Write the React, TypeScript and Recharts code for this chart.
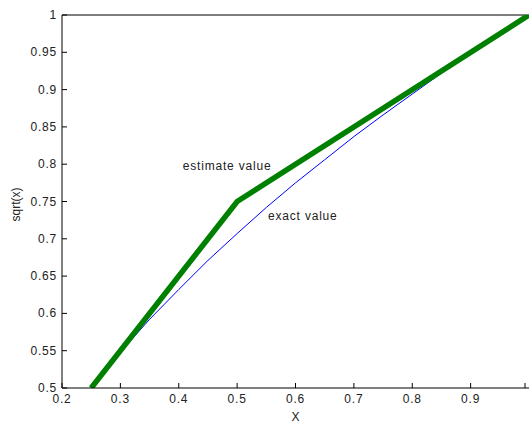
import { LineChart, Line, XAxis, YAxis, ReferenceDot, ReferenceLine } from "recharts"

const estimateX = [0.25, 0.5, 1]
const estimateY = [0.5, 0.75, 1]

const exactX = [0.25, 0.3, 0.35, 0.4, 0.45, 0.5, 0.55, 0.6, 0.65, 0.7, 0.75, 0.8, 0.85, 0.9, 0.95, 1]
const exactY = [0.5, 0.548, 0.592, 0.632, 0.671, 0.707, 0.742, 0.775, 0.806, 0.837, 0.866, 0.894, 0.922, 0.949, 0.975, 1]

const xTicks = [0.2, 0.3, 0.4, 0.5, 0.6, 0.7, 0.8, 0.9, 1]
const yTicks = [0.5, 0.55, 0.6, 0.65, 0.7, 0.75, 0.8, 0.85, 0.9, 0.95, 1]

const annotations = [
  { x: 0.407, y: 0.798, text: "estimate value" },
  { x: 0.553, y: 0.731, text: "exact value" },
]

const estimate = estimateX.map((x, i) => ({ x, y: estimateY[i] }))
const exact = exactX.map((x, i) => ({ x, y: exactY[i] }))

const FONT = "'Liberation Sans', Arial, Helvetica, sans-serif"
const TEXT = "#222"

function fmt(v: number) {
  return String(Number(v.toFixed(2)))
}

function BottomTick(props: any) {
  const { x, y, payload } = props
  return (
    <g>
      <line x1={x} y1={y} x2={x} y2={y - 5} stroke="#000" />
      {payload.value < 1 && (
        <text x={x} y={y + 15} textAnchor="middle" fontSize={12} letterSpacing={0.8} fill={TEXT} fontFamily={FONT}>
          {fmt(payload.value)}
        </text>
      )}
    </g>
  )
}

function TopTick(props: any) {
  const { x, y } = props
  return <line x1={x} y1={y} x2={x} y2={y + 5} stroke="#000" />
}

function LeftTick(props: any) {
  const { x, y, payload } = props
  return (
    <g>
      <line x1={x} y1={y} x2={x + 5} y2={y} stroke="#000" />
      <text x={x - 5} y={y + 4} textAnchor="end" fontSize={12} letterSpacing={0.8} fill={TEXT} fontFamily={FONT}>
        {fmt(payload.value)}
      </text>
    </g>
  )
}

export default function App() {
  return (
    <div style={{ position: "absolute", left: 0, top: 0, width: 529, height: 423, background: "#fff" }}>
      <LineChart width={529} height={423} margin={{ top: 15, right: 0, bottom: 0, left: 0 }}>
        <XAxis
          xAxisId="b"
          type="number"
          dataKey="x"
          domain={[0.2, 1]}
          ticks={xTicks}
          allowDataOverflow
          height={35}
          tickSize={0}
          tickMargin={0}
          tick={<BottomTick />}
          stroke="#000"
          label={{ value: "X", position: "insideBottom", offset: 2, fontSize: 12, fill: TEXT, fontFamily: FONT }}
        />
        <XAxis
          xAxisId="t"
          orientation="top"
          type="number"
          dataKey="x"
          domain={[0.2, 1]}
          ticks={xTicks}
          allowDataOverflow
          height={0}
          tickSize={0}
          tickMargin={0}
          tick={<TopTick />}
          stroke="#000"
        />
        <YAxis
          type="number"
          domain={[0.5, 1]}
          ticks={yTicks}
          allowDataOverflow
          width={62}
          tickSize={0}
          tickMargin={0}
          tick={<LeftTick />}
          stroke="#000"
          label={{
            value: "sqrt(x)",
            angle: -90,
            position: "insideLeft",
            offset: 16,
            dy: 20,
            fontSize: 12,
            fill: TEXT,
            fontFamily: FONT,
          }}
        />
        <ReferenceLine xAxisId="b" y={1} stroke="#000" strokeWidth={1} />
        <Line
          xAxisId="b"
          data={exact}
          dataKey="y"
          stroke="#0000ff"
          strokeWidth={1}
          dot={false}
          isAnimationActive={false}
        />
        <Line
          xAxisId="b"
          data={estimate}
          dataKey="y"
          stroke="#008000"
          strokeWidth={5.5}
          dot={false}
          isAnimationActive={false}
        />
        {annotations.map((a) => (
          <ReferenceDot
            key={a.text}
            xAxisId="b"
            x={a.x}
            y={a.y}
            r={0}
            shape={(p: any) => (
              <text x={p.cx} y={p.cy + 4} fontSize={12} letterSpacing={0.8} fill={TEXT} fontFamily={FONT}>
                {a.text}
              </text>
            )}
          />
        ))}
      </LineChart>
    </div>
  )
}
